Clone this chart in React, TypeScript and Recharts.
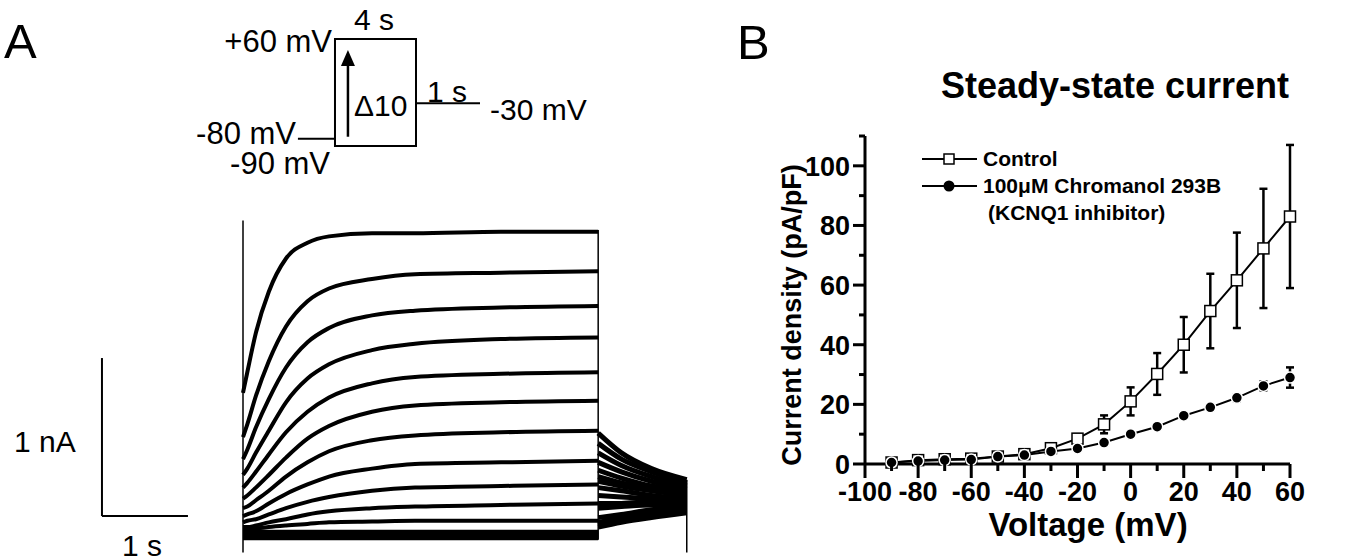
import { LineChart, Line, XAxis, YAxis, ReferenceLine, ReferenceArea, ReferenceDot, ErrorBar } from 'recharts';

const FONT = '"Liberation Sans", Arial, Helvetica, sans-serif';

// ---------- Panel A: voltage protocol (mV vs s) ----------
const holdMv = -80;
const stepMinMv = -90;
const stepMaxMv = 60;
const tailMv = -30;
const protocolT = [-1.83, 0, 4, 7.16]; // holding start, step on, step off, tail end
const arrowT = 0.64;
const arrowMv = [-77, 44.6];

// ---------- Panel A: current traces (nA vs s), +60 mV down to -90 mV ----------
const stepTimes = [0, 0.05, 0.15, 0.3, 0.5, 0.75, 1.0, 1.5, 2.0, 3.0, 4.13];
const stepTraces = [
  [0.9, 1.03, 1.28, 1.54, 1.75, 1.85, 1.89, 1.91, 1.91, 1.92, 1.92],
  [0.62, 0.7, 0.88, 1.1, 1.32, 1.48, 1.56, 1.62, 1.65, 1.66, 1.67],
  [0.48, 0.54, 0.68, 0.86, 1.06, 1.22, 1.31, 1.39, 1.42, 1.44, 1.45],
  [0.38, 0.42, 0.52, 0.66, 0.84, 0.99, 1.08, 1.17, 1.21, 1.24, 1.25],
  [0.3, 0.33, 0.4, 0.51, 0.65, 0.78, 0.87, 0.96, 1.0, 1.02, 1.03],
  [0.23, 0.25, 0.3, 0.38, 0.49, 0.61, 0.69, 0.78, 0.82, 0.84, 0.85],
  [0.17, 0.18, 0.22, 0.28, 0.37, 0.46, 0.53, 0.6, 0.63, 0.65, 0.66],
  [0.12, 0.13, 0.15, 0.2, 0.26, 0.32, 0.37, 0.42, 0.45, 0.46, 0.47],
  [0.08, 0.09, 0.1, 0.13, 0.17, 0.21, 0.24, 0.28, 0.3, 0.31, 0.32],
  [0.05, 0.05, 0.06, 0.08, 0.1, 0.13, 0.15, 0.17, 0.18, 0.19, 0.2],
  [0.03, 0.03, 0.04, 0.05, 0.06, 0.07, 0.08, 0.085, 0.09, 0.09, 0.09],
  [0.02, 0.02, 0.02, 0.02, 0.02, 0.02, 0.02, 0.02, 0.02, 0.02, 0.02],
  [0.01, 0.01, 0.01, 0.01, 0.01, 0.01, 0.01, 0.01, 0.01, 0.01, 0.01],
  [0, 0, 0, 0, 0, 0, 0, 0, 0, 0, 0],
  [-0.01, -0.01, -0.01, -0.01, -0.01, -0.01, -0.01, -0.01, -0.01, -0.01, -0.01],
  [-0.02, -0.02, -0.02, -0.02, -0.02, -0.02, -0.02, -0.02, -0.02, -0.02, -0.02],
];
const tailTimes = [4.13, 4.4, 4.75, 5.16];
const tailTraces = [
  [0.645, 0.52, 0.42, 0.35],
  [0.58, 0.48, 0.4, 0.33],
  [0.52, 0.44, 0.37, 0.31],
  [0.46, 0.4, 0.34, 0.29],
  [0.41, 0.36, 0.31, 0.28],
  [0.37, 0.33, 0.29, 0.26],
  [0.34, 0.31, 0.28, 0.25],
  [0.3, 0.28, 0.25, 0.23],
  [0.25, 0.24, 0.23, 0.22],
  [0.2, 0.2, 0.21, 0.21],
  [0.17, 0.18, 0.19, 0.19],
  [0.11, 0.13, 0.16, 0.18],
  [0.08, 0.11, 0.14, 0.17],
  [0.07, 0.1, 0.13, 0.16],
  [0.06, 0.09, 0.12, 0.15],
  [0.05, 0.08, 0.11, 0.14],
];
const transientT = [0, 4.13, 5.16];
const transientRange = [
  [-0.11, 1.99],
  [-0.03, 1.93],
  [-0.11, 0.35],
];
const scaleBarT = -1.64;
const scaleBarI = 0.12;

// ---------- Panel B: steady-state I-V ----------
const voltages = [-90, -80, -70, -60, -50, -40, -30, -20, -10, 0, 10, 20, 30, 40, 50, 60];
const control = [0.5, 1.3, 1.6, 1.8, 2.5, 3.3, 5.3, 8.5, 13.3, 21.0, 30.2, 40.0, 51.3, 61.6, 72.3, 83.0];
const controlSem = [0.3, 0.3, 0.3, 0.3, 0.4, 0.5, 0.8, 1.5, 3.0, 4.7, 7.0, 9.3, 12.5, 16.0, 20.0, 24.0];
const chromanol = [0.5, 1.0, 1.3, 1.5, 2.5, 3.0, 4.2, 5.2, 7.2, 10.0, 12.5, 16.2, 19.0, 22.2, 26.2, 29.0];
const chromanolSem = [0.3, 0.3, 0.3, 0.3, 0.4, 0.5, 0.6, 0.8, 1.0, 0.8, 0.8, 0.8, 1.0, 1.2, 1.5, 3.4];
const xTicks = [-100, -90, -80, -70, -60, -50, -40, -30, -20, -10, 0, 10, 20, 30, 40, 50, 60];
const yTicks = [0, 10, 20, 30, 40, 50, 60, 70, 80, 90, 100, 110];

const ivRows = voltages.map((v, i) => ({
  v,
  control: control[i],
  controlSem: controlSem[i],
  chrom: chromanol[i],
  chromSem: chromanolSem[i],
}));

function SquareDot(p: any) {
  if (p.cx == null || p.cy == null) return <g key={`sq${p.index}`} />;
  return (
    <rect key={`sq${p.index}`} x={p.cx - 5.5} y={p.cy - 5.5} width={11} height={11}
      fill="#fff" stroke="#000" strokeWidth={1.5} />
  );
}

function CircleDot(p: any) {
  if (p.cx == null || p.cy == null) return <g key={`ci${p.index}`} />;
  return <circle key={`ci${p.index}`} cx={p.cx} cy={p.cy} r={5.5} fill="#000" stroke="#fff" strokeWidth={1.5} />;
}

function XTick({ x, y, payload }: any) {
  const major = payload.value % 20 === 0;
  return (
    <g>
      <line x1={x} x2={x} y1={y} y2={y + (major ? 14 : 7)} stroke="#000" strokeWidth={3} />
      {major && (
        <text x={x} y={y + 37} textAnchor="middle" fontSize={27} fontWeight="bold" fontFamily={FONT} fill="#000">
          {payload.value}
        </text>
      )}
    </g>
  );
}

function YTick({ x, y, payload }: any) {
  const major = payload.value % 20 === 0;
  return (
    <g>
      <line x1={x - (major ? 12 : 6)} x2={x} y1={y} y2={y} stroke="#000" strokeWidth={3} />
      {major && (
        <text x={x - 15} y={y + 10} textAnchor="end" fontSize={27} fontWeight="bold" fontFamily={FONT} fill="#000">
          {payload.value}
        </text>
      )}
    </g>
  );
}

function Arrowhead({ cx, cy }: any) {
  return <polygon points={`${cx},${cy} ${cx - 7},${cy + 16} ${cx + 7},${cy + 16}`} fill="#000" />;
}

function Protocol() {
  const [t0, tOn, tOff, tEnd] = protocolT;
  return (
    <LineChart width={720} height={200} margin={{ top: 0, right: 0, bottom: 0, left: 0 }}>
      <XAxis hide type="number" dataKey="t" domain={[-16.54, 19.01]} allowDataOverflow />
      <YAxis hide domain={[-165.7, 114.7]} allowDataOverflow />
      <ReferenceArea x1={tOn} x2={tOff} y1={stepMinMv} y2={stepMaxMv} fill="#fff" fillOpacity={0}
        stroke="#000" strokeWidth={2} strokeOpacity={1} />
      <ReferenceLine segment={[{ x: t0, y: holdMv }, { x: tOn, y: holdMv }]} stroke="#000" strokeWidth={2} />
      <ReferenceLine segment={[{ x: tOff, y: tailMv }, { x: tEnd, y: tailMv }]} stroke="#000" strokeWidth={2} />
      <ReferenceLine segment={[{ x: arrowT, y: arrowMv[0] }, { x: arrowT, y: arrowMv[1] - 15 }]}
        stroke="#000" strokeWidth={2.5} />
      <ReferenceDot x={arrowT} y={arrowMv[1]} shape={Arrowhead} />
    </LineChart>
  );
}

function Traces() {
  return (
    <LineChart width={720} height={356} margin={{ top: 0, right: 0, bottom: 0, left: 0 }}>
      <XAxis hide type="number" dataKey="t" domain={[-2.8256, 5.5465]} allowDataOverflow />
      <YAxis hide domain={[-0.1329, 2.1203]} allowDataOverflow />
      {stepTraces.map((tr, k) => (
        <Line key={`s${k}`} data={stepTimes.map((t, j) => ({ t, i: tr[j] }))} dataKey="i" type="monotone"
          stroke="#000" strokeWidth={4} dot={false} isAnimationActive={false} />
      ))}
      {tailTraces.map((tr, k) => (
        <Line key={`t${k}`} data={tailTimes.map((t, j) => ({ t, i: tr[j] }))} dataKey="i" type="monotone"
          stroke="#000" strokeWidth={5} dot={false} isAnimationActive={false} />
      ))}
      {transientT.map((t, k) => (
        <ReferenceLine key={`tr${k}`} segment={[{ x: t, y: transientRange[k][0] }, { x: t, y: transientRange[k][1] }]}
          stroke="#000" strokeWidth={1.5} />
      ))}
      <ReferenceLine segment={[{ x: scaleBarT, y: scaleBarI }, { x: scaleBarT, y: scaleBarI + 1 }]}
        stroke="#000" strokeWidth={2} />
      <ReferenceLine segment={[{ x: scaleBarT, y: scaleBarI }, { x: scaleBarT + 1, y: scaleBarI }]}
        stroke="#000" strokeWidth={2} />
    </LineChart>
  );
}

function IVChart() {
  return (
    <LineChart width={607} height={556} data={ivRows} margin={{ top: 136, right: 77, bottom: 52, left: 45 }}>
      <XAxis type="number" dataKey="v" domain={[-100, 60]} ticks={xTicks} interval={0} height={40}
        axisLine={{ stroke: '#000', strokeWidth: 3 }} tickLine={false} tickSize={0} tickMargin={0} tick={XTick} />
      <YAxis type="number" domain={[0, 110]} ticks={yTicks} interval={0} width={60}
        axisLine={{ stroke: '#000', strokeWidth: 3 }} tickLine={false} tickSize={0} tickMargin={0} tick={YTick} />
      <Line dataKey="control" stroke="#000" strokeWidth={2} dot={SquareDot} isAnimationActive={false}>
        <ErrorBar dataKey="controlSem" width={4} stroke="#000" strokeWidth={2.5} />
      </Line>
      <Line dataKey="chrom" stroke="#000" strokeWidth={2} dot={CircleDot} isAnimationActive={false}>
        <ErrorBar dataKey="chromSem" width={4} stroke="#000" strokeWidth={2.5} />
      </Line>
    </LineChart>
  );
}

function Annotations() {
  const t = { fontFamily: FONT, fill: '#000' };
  return (
    <svg width={1367} height={556} style={{ position: 'absolute', left: 0, top: 0, pointerEvents: 'none' }}>
      <text x={4} y={58} fontSize={49} {...t}>A</text>
      <text x={737} y={59} fontSize={49} {...t}>B</text>

      <text x={332} y={52} fontSize={31} textAnchor="end" {...t}>+60 mV</text>
      <text x={374} y={30} fontSize={30} textAnchor="middle" {...t}>4 s</text>
      <text x={354} y={116} fontSize={30} {...t}>Δ10</text>
      <text x={427} y={102} fontSize={30} {...t}>1 s</text>
      <text x={490} y={120} fontSize={30} {...t}>-30 mV</text>
      <text x={296} y={144} fontSize={31} textAnchor="end" {...t}>-80 mV</text>
      <text x={330} y={174} fontSize={31} textAnchor="end" {...t}>-90 mV</text>

      <text x={14} y={452} fontSize={30} {...t}>1 nA</text>
      <text x={142} y={556} fontSize={30} textAnchor="middle" {...t}>1 s</text>

      <text x={1115} y={98} fontSize={36} fontWeight="bold" textAnchor="middle" {...t}>Steady-state current</text>
      <text x={1088} y={536} fontSize={33} fontWeight="bold" textAnchor="middle" {...t}>Voltage (mV)</text>
      <text transform="translate(801,315) rotate(-90)" fontSize={27} fontWeight="bold" textAnchor="middle" {...t}>
        Current density (pA/pF)
      </text>

      <line x1={922} x2={977} y1={159} y2={159} stroke="#000" strokeWidth={2} />
      <rect x={944} y={154} width={10} height={10} fill="#fff" stroke="#000" strokeWidth={1.5} />
      <text x={983} y={166} fontSize={21} fontWeight="bold" {...t}>Control</text>
      <line x1={922} x2={977} y1={186} y2={186} stroke="#000" strokeWidth={2} />
      <circle cx={949} cy={186} r={5.5} fill="#000" />
      <text x={983} y={193} fontSize={21} fontWeight="bold" {...t}>100μM Chromanol 293B</text>
      <text x={988} y={220} fontSize={21} fontWeight="bold" {...t}>(KCNQ1 inhibitor)</text>
    </svg>
  );
}

export default function App() {
  return (
    <div style={{ position: 'relative', width: 1367, height: 556, background: '#fff', overflow: 'hidden', fontFamily: FONT }}>
      <style>{'body{margin:0}'}</style>
      <div style={{ position: 'absolute', left: 0, top: 0 }}>
        <Protocol />
      </div>
      <div style={{ position: 'absolute', left: 0, top: 200 }}>
        <Traces />
      </div>
      <div style={{ position: 'absolute', left: 760, top: 0 }}>
        <IVChart />
      </div>
      <Annotations />
    </div>
  );
}
